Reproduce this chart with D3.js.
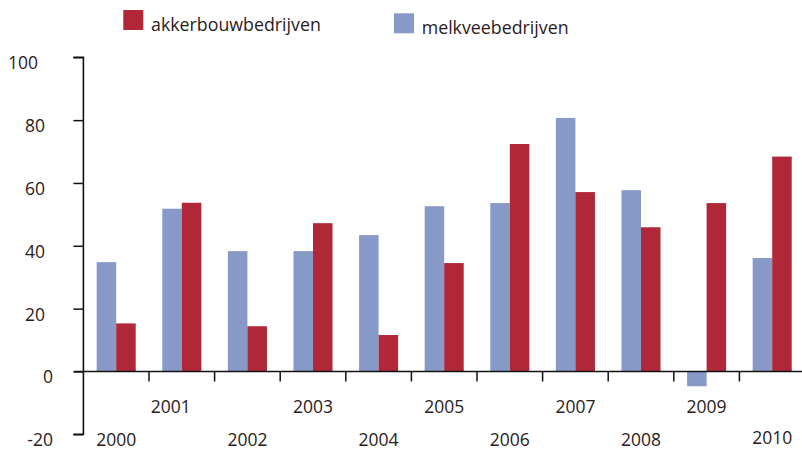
<!DOCTYPE html>
<html>
<head>
<meta charset="utf-8">
<script src="https://cdn.jsdelivr.net/npm/d3@7"></script>
<style>
  html, body { margin: 0; padding: 0; background: #fff; }
  svg { display: block; font-family: "Open Sans", sans-serif; }
</style>
</head>
<body>
<svg id="chart" width="802" height="450"></svg>
<script>
const years = ["2000","2001","2002","2003","2004","2005","2006","2007","2008","2009","2010"];
const melkvee = [34.8, 51.8, 38.3, 38.3, 43.4, 52.6, 53.6, 80.7, 57.7, -4.7, 36.1];
const akkerbouw = [15.3, 53.7, 14.4, 47.2, 11.6, 34.5, 72.4, 57.1, 45.9, 53.6, 68.4];
const seriesNames = ["melkveebedrijven", "akkerbouwbedrijven"];
const seriesColors = ["#8799c7", "#b02737"];
const yTicks = [-20, 0, 20, 40, 60, 80, 100];

const svg = d3.select("#chart");
const textColor = "#2b1b1b";

const y = d3.scaleLinear().domain([-20, 100]).range([434.3, 57.3]);
const x0 = d3.scaleBand().domain(years).range([83.4, 805]).padding(0);
const x1 = d3.scaleBand().domain(seriesNames).range([0, x0.bandwidth()]).paddingInner(0).paddingOuter(0.68);

const data = years.map((yr, i) => ({ year: yr, values: [melkvee[i], akkerbouw[i]] }));

// bars
const groups = svg.append("g").selectAll("g").data(data).join("g")
  .attr("transform", d => `translate(${x0(d.year)},0)`);
groups.selectAll("rect").data(d => d.values.map((v, j) => ({ v, s: seriesNames[j], c: seriesColors[j] })))
  .join("rect")
  .attr("x", d => x1(d.s))
  .attr("width", x1.bandwidth())
  .attr("y", d => y(Math.max(0, d.v)))
  .attr("height", d => Math.abs(y(d.v) - y(0)))
  .attr("fill", d => d.c);

// y axis
const yAxis = d3.axisLeft(y).tickValues(yTicks).tickSize(10).tickFormat("");
const gy = svg.append("g").attr("transform", "translate(83.4,0)").call(yAxis);
gy.select(".domain").attr("stroke", "#111").attr("stroke-width", 1.6).attr("d", `M-10,${y(100)}H0V${y(-20)}H-10`);
gy.selectAll(".tick line").attr("stroke", "#111").attr("stroke-width", 1.5);

// y labels
svg.append("g").selectAll("text").data(yTicks).join("text")
  .attr("x", d => d >= 100 ? 38 : (d <= 0 ? 53 : 45))
  .attr("y", d => y(d) + 12)
  .attr("text-anchor", "end")
  .attr("font-size", 17.5)
  .attr("fill", textColor)
  .text(d => d);

// x axis on zero line
const xAxis = d3.axisBottom(x0).tickSize(0).tickFormat("");
const gx = svg.append("g").attr("transform", `translate(0,${y(0)})`).call(xAxis);
gx.select(".domain").attr("stroke", "#111").attr("stroke-width", 1.5).attr("d", `M74,0H802`);
// boundary tick marks between groups
svg.append("g").selectAll("line").data(years.slice(1)).join("line")
  .attr("x1", d => x0(d)).attr("x2", d => x0(d))
  .attr("y1", y(0)).attr("y2", y(0) + 10)
  .attr("stroke", "#111").attr("stroke-width", 1.5);

// x labels (alternating rows)
svg.append("g").selectAll("text").data(years).join("text")
  .attr("x", d => x0(d) + x0.bandwidth() / 2)
  .attr("dx", (d, i) => i === 1 ? -11 : 0)
  .attr("y", (d, i) => i % 2 === 1 ? 413 : (i === years.length - 1 ? 444 : 446))
  .attr("text-anchor", "middle")
  .attr("font-size", 17.5)
  .attr("fill", textColor)
  .text(d => d);

// legend
const legendItems = [
  { name: seriesNames[1], color: seriesColors[1], x: 123.3, y: 10, tx: 151, ty: 31 },
  { name: seriesNames[0], color: seriesColors[0], x: 394, y: 13.3, tx: 421.7, ty: 34 }
];
const lg = svg.append("g").selectAll("g").data(legendItems).join("g");
lg.append("rect").attr("x", d => d.x).attr("y", d => d.y).attr("width", 20).attr("height", 20).attr("fill", d => d.color);
lg.append("text").attr("x", d => d.tx).attr("y", d => d.ty).attr("font-size", 17.8).attr("fill", textColor).text(d => d.name);
</script>
</body>
</html>
